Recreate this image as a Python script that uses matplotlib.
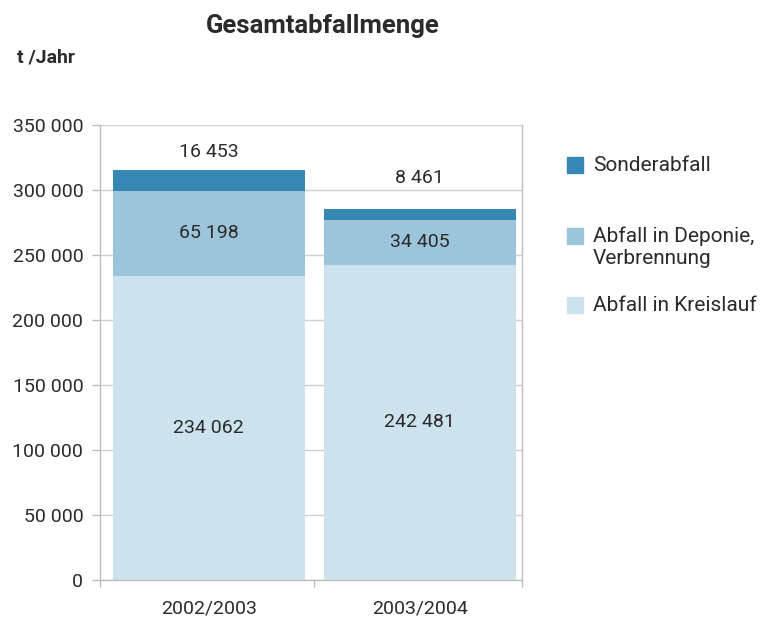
import numpy as np
import matplotlib.pyplot as plt
from matplotlib.patches import Rectangle

plt.rcParams['font.family'] = ['Roboto', 'DejaVu Sans']

# data
years = ['2002/2003', '2003/2004']
kreislauf = [234062, 242481]
deponie = [65198, 34405]
sonder = [16453, 8461]
series_names = ['Sonderabfall', 'Abfall in Deponie,\nVerbrennung', 'Abfall in Kreislauf']
yticks = [0, 50000, 100000, 150000, 200000, 250000, 300000, 350000]

col_light = '#cce2ed'
col_mid = '#9cc4da'
col_dark = '#3587b4'
txt = '#2b2b2b'
gray = '#bdbdbd'


def fmt(v):
    return f'{v:,}'.replace(',', ' ')


fig = plt.figure(figsize=(7.66, 6.2), dpi=100)
ax = fig.add_axes([100 / 766, 1 - 580 / 620, 422 / 766, 455 / 620])

x = np.arange(len(years))
w = 0.91
ax.bar(x, kreislauf, w, color=col_light, zorder=2)
ax.bar(x, deponie, w, bottom=kreislauf, color=col_mid, zorder=2)
bottom3 = np.array(kreislauf) + np.array(deponie)
ax.bar(x, sonder, w, bottom=bottom3, color=col_dark, zorder=2)

ax.set_xlim(-0.515, 1.485)
ax.set_ylim(0, 350000)
ax.set_yticks(yticks)
ax.set_yticklabels([fmt(v) for v in yticks])
ax.set_xticks(x)
ax.set_xticklabels(years)
ax.set_xticks([-0.515, 0.5, 1.485], minor=True)
ax.tick_params(axis='x', which='major', length=0, pad=14, labelsize=14, labelcolor=txt)
ax.tick_params(axis='x', which='minor', length=5, color=gray, width=1)
ax.tick_params(axis='y', length=6, pad=6, color=gray, width=1, labelsize=14, labelcolor=txt)

ax.grid(axis='y', color='#cfcfcf', linewidth=1, zorder=0)
ax.set_axisbelow(True)
ax.spines['top'].set_visible(False)
for s in ['left', 'right', 'bottom']:
    ax.spines[s].set_color(gray)
    ax.spines[s].set_linewidth(1)

# value labels
for i in range(len(years)):
    ax.text(x[i], kreislauf[i] / 2, fmt(kreislauf[i]), ha='center', va='center',
            fontsize=14, color=txt, zorder=3)
    ax.text(x[i], kreislauf[i] + deponie[i] / 2, fmt(deponie[i]), ha='center', va='center',
            fontsize=14, color=txt, zorder=3)
top_offsets = [18, 31]
for i in range(len(years)):
    ax.annotate(fmt(sonder[i]), (x[i], bottom3[i] + sonder[i]),
                xytext=(0, top_offsets[i]), textcoords='offset pixels',
                ha='center', va='center', fontsize=14, color=txt)

# titles
fig.text(323 / 766, 1 - 26 / 620, 'Gesamtabfallmenge', ha='center', va='center',
         fontsize=18.5, fontweight='bold', color=txt)
fig.text(17 / 766, 1 - 57 / 620, 't /Jahr', ha='left', va='center',
         fontsize=14, fontweight='bold', color=txt)

# legend drawn by hand
leg_colors = [col_dark, col_mid, col_light]
leg_top = [157, 228, 297]
for c, lab, ytop in zip(leg_colors, series_names, leg_top):
    fig.patches.append(Rectangle((567 / 766, 1 - (ytop + 16) / 620), 16 / 766, 16 / 620,
                                 transform=fig.transFigure, color=c, figure=fig))
    for k, line in enumerate(lab.split('\n')):
        fig.text(593 / 766, 1 - (ytop + 14 + 22 * k) / 620, line, ha='left', va='baseline',
                 fontsize=15, color=txt)

fig.savefig('out.png', dpi=100)
